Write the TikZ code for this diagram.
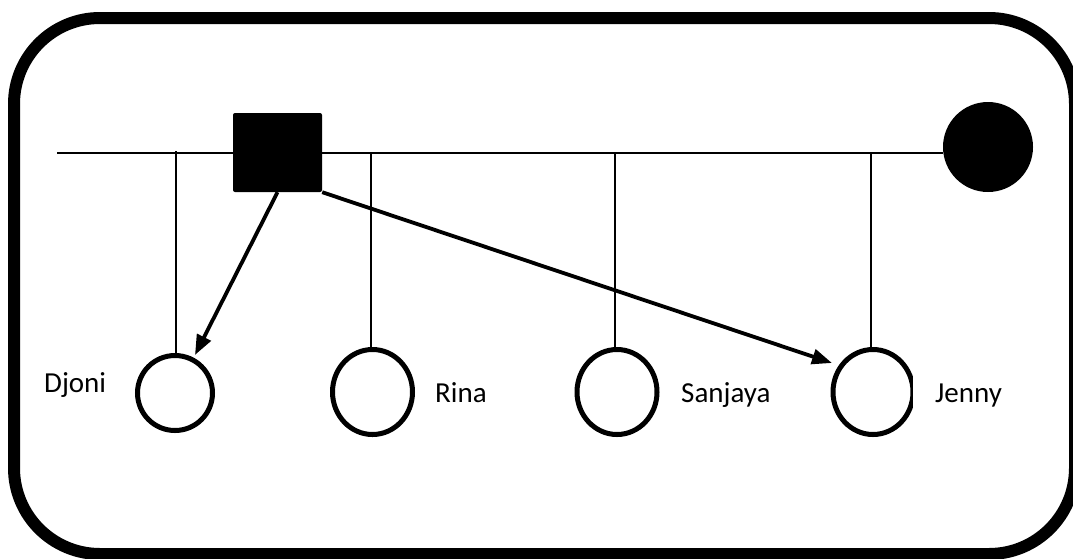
\documentclass[tikz,border=0pt]{standalone}
\usepackage{fontspec}
\setmainfont{Carlito}
\usetikzlibrary{arrows.meta,shapes.geometric}
\begin{document}
\begin{tikzpicture}[x=1pt,y=-1pt,
  frame/.style={line width=12pt, rounded corners=86pt},
  bar/.style={line width=1.6pt},
  kid/.style={draw, ellipse, line width=5pt, inner sep=0pt,
    minimum width=80pt, minimum height=85pt},
  lbl/.style={anchor=base west, inner sep=0pt,
    font=\fontsize{29}{35}\selectfont},
  link/.style={line width=3.8pt, -{Triangle[length=20pt,width=15pt]}},
  blank/.style={fill=white}]
\useasboundingbox (0,0) rectangle (1073,558);

% outer frame
\draw[frame] (14,18) rectangle (1075,554);

% parents
\node[fill=black, rounded corners=2pt, inner sep=0pt,
  minimum width=89pt, minimum height=79pt] (father) at (277.5,152.5) {};
\node[fill=black, circle, inner sep=0pt, minimum size=90pt] (mother) at (988,147) {};

% marriage line
\coordinate (lineL) at (57,153);
\draw[bar] (lineL) -- (mother.west |- lineL);

% children
\node[kid, minimum width=75pt, minimum height=75pt] (djoni) at (175,393) {};
\node[kid] (rina) at (372.5,392) {};
\node[kid] (sanjaya) at (617,392) {};
\node[kid] (jenny) at (873,392) {};

% gaps cut into two of the circles
\fill[blank] (112,374) rectangle (133,408);
\fill[blank] (913,370) rectangle (930,410);

% descent lines
\coordinate (d1) at (176,151);
\coordinate (d2) at (371,153);
\coordinate (d3) at (615,153);
\coordinate (d4) at (871,153);
\draw[bar] (d1) -- (d1 |- djoni.north);
\draw[bar] (d2) -- (d2 |- rina.north);
\draw[bar] (d3) -- (d3 |- sanjaya.north);
\draw[bar] (d4) -- (d4 |- jenny.north);

% names
\node[lbl] (nDjoni) at (44,392) {Djoni};
\node[lbl] (nRina) at (435,402) {Rina};
\node[lbl] (nSanjaya) at (681,402) {Sanjaya};
\node[lbl] (nJenny) at (935,402) {Jenny};

% arrows from the father
\coordinate (tipDjoni) at (195,355);
\coordinate (tipJenny) at (832,363);
\draw[link] (father.south) -- (tipDjoni);
\draw[link] (father.south east) -- (tipJenny);
\end{tikzpicture}
\end{document}
